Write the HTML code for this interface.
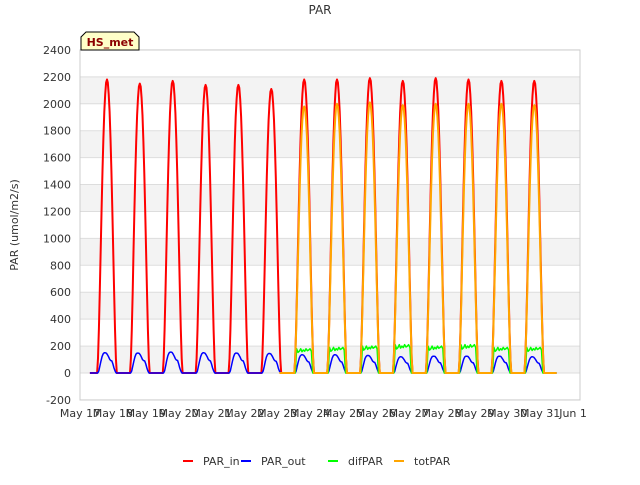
<!DOCTYPE html>
<html><head><meta charset="utf-8"><style>
body{margin:0;background:#fff;font-family:"Liberation Sans","DejaVu Sans",sans-serif}
svg text{font-family:"DejaVu Sans","Liberation Sans",sans-serif}
</style></head><body>
<svg id="c" width="640" height="480" xmlns="http://www.w3.org/2000/svg">
<rect x="0" y="0" width="640" height="480" fill="#fff"/>
<text x="320" y="14" font-size="12" fill="#333" text-anchor="middle">PAR</text>
<g id="grid"></g>
<rect x="80" y="50" width="500" height="350" fill="none" stroke="#ccc"/>
<g id="series"></g>
<g id="axes"></g>
<text transform="translate(18,225) rotate(-90)" font-size="11" fill="#333" text-anchor="middle">PAR (umol/m2/s)</text>
<g>
<path d="M81,50 L81,37 L86,32 L134,32 L139,37 L139,50 Z" fill="#ffffc8" stroke="#000"/>
<text x="110" y="46" font-size="11" font-weight="bold" fill="#8b0000" text-anchor="middle">HS_met</text>
</g>
<g id="legend"></g>
</svg>
<script>
const yTicks=[-200,0,200,400,600,800,1000,1200,1400,1600,1800,2000,2200,2400];
const xTickLabels=["May 17","May 18","May 19","May 20","May 21","May 22","May 23","May 24","May 25","May 26","May 27","May 28","May 29","May 30","May 31","Jun 1"];
const parInPeaks=[2180,2150,2170,2140,2140,2110,2180,2180,2190,2170,2190,2180,2170,2170];
const parOutPeaks=[150,148,155,150,148,145,135,135,130,120,125,125,125,120];
const difParPeaks=[null,null,null,null,null,null,180,190,200,210,200,210,190,190];
const totParPeaks=[null,null,null,null,null,null,1980,2000,2010,1990,2000,2000,2000,1990];
const inShape=[0,0.05,0.15,0.28,0.42,0.56,0.69,0.8,0.89,0.95,0.99,1,0.99,0.95,0.89,0.8,0.69,0.56,0.42,0.28,0.15,0.05,0];
const outShape=[0,0.1,0.35,0.6,0.82,0.95,1,1,0.98,0.9,0.8,0.68,0.62,0.6,0.45,0.25,0.1,0];
const difShape=[0,1,0.85,0.9,1,0.88,0.95,0.9,1,0.92,0.95,1,0.9,0];
const X0=80,DAYW=32.87,Y0=373,YS=350/2600;
function x(d){return X0+d*DAYW;}
function y(v){return Y0-v*YS;}
const NS="http://www.w3.org/2000/svg";
function mk(t,a,p){const e=document.createElementNS(NS,t);for(const k in a)e.setAttribute(k,a[k]);p.appendChild(e);return e;}
const grid=document.getElementById('grid'),axes=document.getElementById('axes');
for(let i=0;i<yTicks.length-1;i++){
 if(i%2==1){const b=mk('rect',{x:80,y:y(yTicks[i+1]),width:500,height:y(yTicks[i])-y(yTicks[i+1]),fill:'#f3f3f3'},grid);
 }
}
yTicks.forEach(v=>{
 const l=mk('line',{x1:80,x2:580,y1:y(v),y2:y(v),stroke:'#ddd'},grid);
 
 const t=mk('text',{x:71,y:y(v)+4,'font-size':11,fill:'#333','text-anchor':'end'},axes);t.textContent=v;
 
});
xTickLabels.forEach((s,i)=>{
 const t=mk('text',{x:x(i),y:417,'font-size':11,fill:'#333','text-anchor':'middle'},axes);t.textContent=s;
 
});
function build(peaks,shape,start,end,nullZero){
 const pts=[];
 pts.push([0.3,0]);
 for(let d=0;d<peaks.length;d++){
  const p=peaks[d];
  const n=shape.length-1;
  for(let k=0;k<=n;k++){pts.push([d+start+(end-start)*k/n,(p==null?0:p)*shape[k]]);}
 }
 pts.push([14.5,0]);
 return pts;
}
function path(pts,color,name,w,from){
 const f=pts.filter(p=>p[0]>=from);
 const d=f.map((p,i)=>(i?'L':'M')+x(p[0]).toFixed(1)+','+y(p[1]).toFixed(1)).join('');
 const e=mk('path',{d:d,fill:'none',stroke:color,'stroke-width':w,'stroke-linejoin':'round'},document.getElementById('series'));
 
}
path(build(parInPeaks,inShape,0.52,1.12),'#f00','par-in-line',2,0);
path(build(parOutPeaks,outShape,0.54,1.1),'#00f','par-out-line',1.5,0);
path(build(difParPeaks,difShape,0.55,1.08),'#0f0','difpar-line',1.5,6.05);
path(build(totParPeaks,inShape,0.52,1.12),'#ffa500','totpar-line',2,6.05);
const leg=[["PAR_in","#f00",183],["PAR_out","#00f",241],["difPAR","#0f0",328],["totPAR","#ffa500",394]];
const lg=document.getElementById('legend');
leg.forEach(l=>{
 const g=mk('g',{},lg);
 mk('line',{x1:l[2],x2:l[2]+10,y1:461,y2:461,stroke:l[1],'stroke-width':2},g);
 const t=mk('text',{x:l[2]+20,y:465,'font-size':11,fill:'#333'},g);t.textContent=l[0];
});
</script>
</body></html>
